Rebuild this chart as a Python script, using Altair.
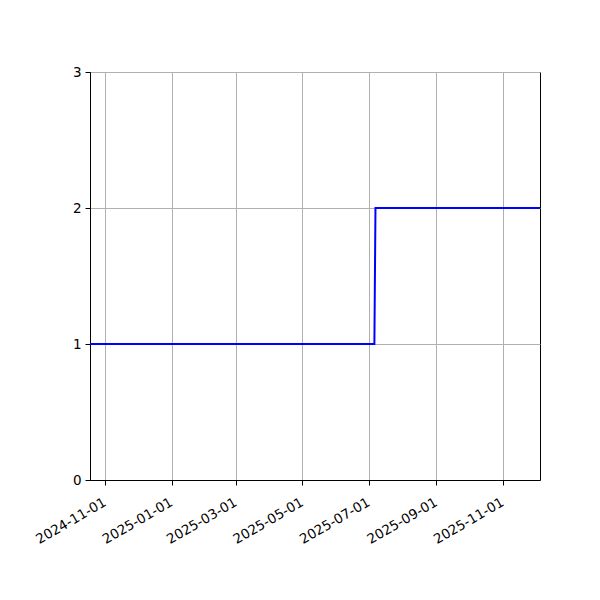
import altair as alt
import pandas as pd

dates = ["2024-10-18", "2025-07-06", "2025-07-07", "2025-12-05"]
values = [1, 1, 2, 2]

x_domain = [(2024, 10, 18), (2025, 12, 5)]
x_ticks = [(2024, 11, 1), (2025, 1, 1), (2025, 3, 1), (2025, 5, 1),
           (2025, 7, 1), (2025, 9, 1), (2025, 11, 1)]
y_ticks = [0, 1, 2, 3]

df = pd.DataFrame({"date": dates, "value": values})


def dt(t):
    return alt.DateTime(year=t[0], month=t[1], date=t[2], utc=True)


line = alt.Chart(df).mark_line(color="#0000ff", strokeWidth=2, clip=True).encode(
    x=alt.X(
        "date:T",
        scale=alt.Scale(type="utc", domain=[dt(d) for d in x_domain], nice=False),
        axis=alt.Axis(
            values=[dt(d) for d in x_ticks],
            labelExpr="utcFormat(datum.value, '%Y-%m-%d')",
            labelOverlap=False,
            labelAngle=-30,
            labelAlign="right",
            labelBaseline="top",
            labelPadding=10,
            labelOffset=-4,
            title=None,
            grid=True,
        ),
    ),
    y=alt.Y(
        "value:Q",
        scale=alt.Scale(domain=[0, 3], nice=False),
        axis=alt.Axis(values=y_ticks, format="d", title=None, grid=True,
                      labelPadding=4),
    ),
)

chart = line.properties(
    width=450,
    height=408,
    autosize=alt.AutoSizeParams(type="none"),
    padding={"left": 82, "top": 64, "right": 50, "bottom": 112},
    background="white",
).configure_view(
    stroke="black", strokeWidth=1
).configure_axis(
    labelFont="DejaVu Sans",
    labelFontSize=13.5,
    labelColor="black",
    tickColor="black",
    tickSize=5,
    tickWidth=1,
    domainColor="black",
    domainWidth=1,
    gridColor="#b0b0b0",
    gridWidth=1,
)

chart.save("out.html", embed_options={"renderer": "svg", "actions": False})
